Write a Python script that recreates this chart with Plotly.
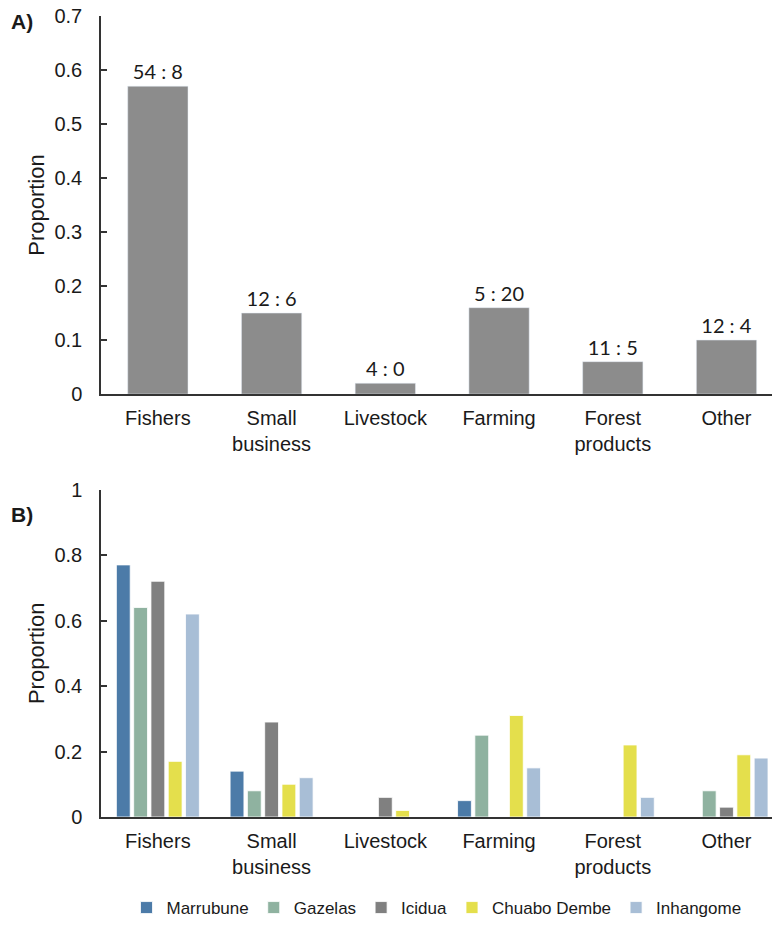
import plotly.graph_objects as go

# Livelihood categories shared by both panels
categories = ["Fishers", "Small<br>business", "Livestock", "Farming", "Forest<br>products", "Other"]

# Panel A: overall proportion per livelihood, with count ratio labels
overall_prop = [0.57, 0.15, 0.02, 0.16, 0.06, 0.10]
ratio_labels = ["54 : 8", "12 : 6", "4 : 0", "5 : 20", "11 : 5", "12 : 4"]

# Panel B: proportion per livelihood by community
communities = ["Marrubune", "Gazelas", "Icidua", "Chuabo Dembe", "Inhangome"]
marrubune = [0.77, 0.14, 0.00, 0.05, 0.00, 0.00]
gazelas = [0.64, 0.08, 0.00, 0.25, 0.00, 0.08]
icidua = [0.72, 0.29, 0.06, 0.00, 0.00, 0.03]
chuabo_dembe = [0.17, 0.10, 0.02, 0.31, 0.22, 0.19]
inhangome = [0.62, 0.12, 0.00, 0.15, 0.06, 0.18]
community_values = [marrubune, gazelas, icidua, chuabo_dembe, inhangome]
community_colors = ["#4c7ba8", "#8fb2a0", "#808080", "#e4df4c", "#a8bed6"]

AXIS_FONT = "Liberation Sans, Arial, sans-serif"
LABEL_FONT = "Lato, Calibri, sans-serif"
INK = "#1a1a1a"

fig = go.Figure()

fig.add_trace(go.Bar(
    x=categories, y=overall_prop, width=0.53,
    text=ratio_labels, textposition="outside",
    textfont=dict(family=LABEL_FONT, size=20, color=INK),
    marker=dict(color="#8c8c8c"),
    cliponaxis=False, showlegend=False,
    xaxis="x", yaxis="y",
))

for name, vals, col in zip(communities, community_values, community_colors):
    fig.add_trace(go.Bar(
        x=categories, y=vals, name=name,
        marker=dict(color=col, line=dict(color="white", width=0.8)),
        xaxis="x2", yaxis="y2",
    ))

xcommon = dict(
    type="category", range=[-0.5, 5.4], showline=True, linecolor="#333333",
    linewidth=1.5, ticks="outside", ticklen=5, tickcolor="rgba(0,0,0,0)",
    tickfont=dict(family=AXIS_FONT, size=20, color=INK),
    showgrid=False, zeroline=False, fixedrange=True,
)
ycommon = dict(
    showline=True, linecolor="#333333", linewidth=1.5, ticks="inside",
    ticklen=6, tickcolor="#333333", tickwidth=1.5, ticklabelstandoff=13,
    tickfont=dict(family=AXIS_FONT, size=20, color=INK),
    showgrid=False, zeroline=False,
)
ytitle = dict(text="Proportion", standoff=4,
              font=dict(family=AXIS_FONT, size=22, color=INK))

fig.update_layout(
    width=772, height=926,
    margin=dict(l=101, r=0, t=16, b=105),
    paper_bgcolor="white", plot_bgcolor="white",
    barmode="group", bargap=0.24, bargroupgap=0.2,
    xaxis=dict(xcommon, domain=[0, 1], anchor="y"),
    yaxis=dict(ycommon, domain=[0.528, 1], anchor="x", range=[0, 0.7],
               tickvals=[0, 0.1, 0.2, 0.3, 0.4, 0.5, 0.6, 0.7],
               ticktext=["0", "0.1", "0.2", "0.3", "0.4", "0.5", "0.6", "0.7"],
               title=ytitle),
    xaxis2=dict(xcommon, domain=[0, 1], anchor="y2"),
    yaxis2=dict(ycommon, domain=[0, 0.4087], anchor="x2", range=[0, 1],
                tickvals=[0, 0.2, 0.4, 0.6, 0.8, 1],
                ticktext=["0", "0.2", "0.4", "0.6", "0.8", "1"],
                title=ytitle),
    legend=dict(orientation="h", x=0.5, xanchor="center", y=-0.114,
                yanchor="middle", font=dict(family=AXIS_FONT, size=17, color=INK),
                itemwidth=30, traceorder="normal"),
    annotations=[
        dict(text="<b>A)</b>", xref="paper", yref="paper", x=-0.137, y=0.993,
             xanchor="left", yanchor="middle", showarrow=False,
             font=dict(family=AXIS_FONT, size=21, color=INK)),
        dict(text="<b>B)</b>", xref="paper", yref="paper", x=-0.137, y=0.378,
             xanchor="left", yanchor="middle", showarrow=False,
             font=dict(family=AXIS_FONT, size=21, color=INK)),
    ],
)

fig.write_html("out.html")
